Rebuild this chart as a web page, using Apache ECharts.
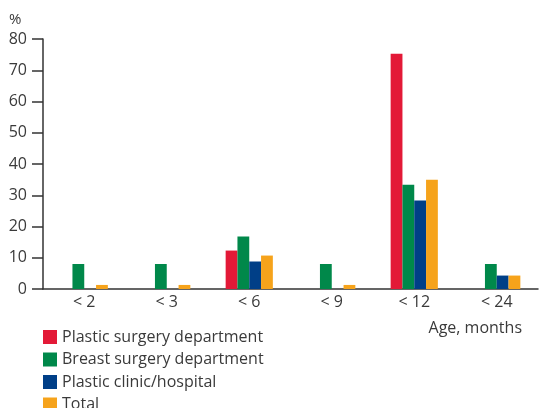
<!DOCTYPE html>
<html>
<head>
<meta charset="utf-8">
<script src="https://cdn.jsdelivr.net/npm/echarts@6/dist/echarts.min.js"></script>
<style>
  html, body { margin: 0; padding: 0; background: #fff; }
  #chart { width: 541px; height: 408px; }
</style>
</head>
<body>
<div id="chart"></div>
<script>
const categories = ['< 2', '< 3', '< 6', '< 9', '< 12', '< 24'];
const plasticDept = [null, null, 12.3, null, 75.3, null];
const breastDept = [8, 8, 16.8, 8, 33.4, 8];
const plasticClinic = [null, null, 8.8, null, 28.3, 4.3];
const total = [1.3, 1.3, 10.7, 1.3, 35, 4.3];
const yTicks = [0, 10, 20, 30, 40, 50, 60, 70, 80];

const font = '"Open Sans", Lato, sans-serif';
const textColor = '#3a3a3a';

const chart = echarts.init(document.getElementById('chart'));

const makeSeries = (name, data, color) => ({
  name: name,
  type: 'bar',
  data: data,
  barWidth: 11.8,
  barGap: '0%',
  itemStyle: { color: color }
});

const option = {
  animation: false,
  textStyle: { fontFamily: font },
  grid: {
    left: 43,
    right: 3,
    top: 39,
    bottom: 119
  },
  legend: {
    orient: 'vertical',
    left: 43,
    top: 329,
    height: 90,
    padding: 0,
    icon: 'rect',
    itemWidth: 14,
    itemHeight: 14,
    itemGap: 6.5,
    textStyle: { fontSize: 16, color: textColor, fontFamily: font, lineHeight: 15 },
    data: ['Plastic surgery department', 'Breast surgery department', 'Plastic clinic/hospital', 'Total']
  },
  xAxis: {
    type: 'category',
    data: categories,
    name: 'Age, months',
    nameLocation: 'end',
    nameGap: 0,
    nameTextStyle: {
      fontSize: 16,
      color: textColor,
      align: 'right',
      verticalAlign: 'top',
      padding: [31, 16, 0, 0]
    },
    axisLine: { lineStyle: { color: '#333', width: 1.5 } },
    axisTick: { show: false },
    axisLabel: { fontSize: 16, color: textColor, margin: 5 }
  },
  yAxis: {
    type: 'value',
    min: yTicks[0],
    max: yTicks[yTicks.length - 1],
    interval: 10,
    name: '%',
    nameLocation: 'end',
    nameGap: 12,
    nameTextStyle: {
      fontSize: 15,
      color: textColor,
      align: 'left',
      padding: [0, 0, 0, -34]
    },
    axisLine: { show: true, lineStyle: { color: '#333', width: 1.5 } },
    axisTick: { show: true, length: 11, lineStyle: { color: '#333', width: 1.5 } },
    axisLabel: { fontSize: 16, color: textColor, margin: 16 },
    splitLine: { show: false }
  },
  series: [
    makeSeries('Plastic surgery department', plasticDept, '#E31937'),
    makeSeries('Breast surgery department', breastDept, '#00884A'),
    makeSeries('Plastic clinic/hospital', plasticClinic, '#003F87'),
    makeSeries('Total', total, '#F6A31B')
  ]
};

chart.setOption(option);
</script>
</body>
</html>
